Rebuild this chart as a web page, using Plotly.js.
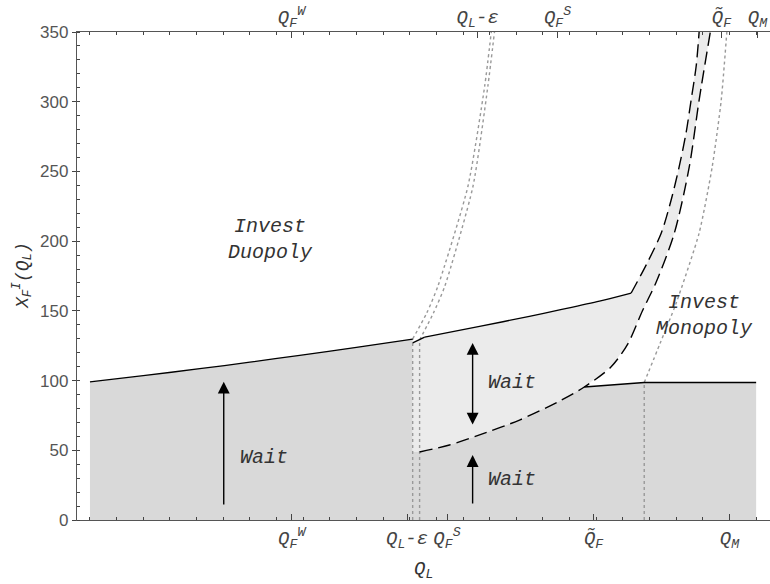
<!DOCTYPE html>
<html><head><meta charset="utf-8">
<script src="https://cdn.plot.ly/plotly-3.0.1.min.js"></script>
<style>body{margin:0;background:#fff}</style>
</head><body><div id="chart" style="width:770px;height:584px"></div>
<script>
// ---- data (x in model units, y = X_F^I(Q_L)) ----
const duoLeftX = [0, 2.0, 4.12, 6.0, 7.87, 10.0, 12.11];
const duoLeftY = [99.0, 103.5, 108.5, 113.2, 118.1, 123.8, 129.8];
const linkX = [12.11, 12.56];
const linkY = [127.0, 131.2];
const duoRightX = [12.56, 14.62, 16.49, 17.62, 19.12, 20.31];
const duoRightY = [131.2, 138.8, 146.1, 150.7, 157.0, 162.8];
const upDashX = [20.31, 20.91, 21.44, 21.81, 22.11, 22.37, 22.56, 22.75, 22.86];
const upDashY = [162.8, 184.3, 205.8, 229.5, 253.2, 277.6, 301.2, 325.6, 350];
const lowDashX = [12.37, 13.49, 14.62, 16.12, 17.62, 18.55, 19.55, 20.18, 20.73, 21.25, 21.93, 22.49, 22.86, 23.28];
const lowDashY = [48.8, 53.8, 61.0, 71.7, 85.3, 95.4, 109.7, 126.2, 149.9, 170.7, 205.8, 253.2, 301.2, 350];
const monoX = [18.55, 20.80, 25.0];
const monoY = [95.4, 98.6, 98.6];
// dotted guides: vertical part + curved part
const dotAVertX = [12.11, 12.11];
const dotAVertY = [0, 129.8];
const dotACurveX = [12.11, 12.64, 13.05, 14.18, 14.81, 15.06];
const dotACurveY = [129.8, 148.5, 167.3, 239.0, 310.8, 350];
const dotBVertX = [12.37, 12.37];
const dotBVertY = [0, 129.1];
const dotBCurveX = [12.37, 12.89, 13.31, 14.37, 14.93, 15.18];
const dotBCurveY = [129.1, 148.5, 167.3, 239.0, 310.8, 350];
const dotCVertX = [20.80, 20.80];
const dotCVertY = [0, 98.6];
const dotCCurveX = [20.80, 21.40, 22.0, 22.86, 23.35, 23.69, 23.90];
const dotCCurveY = [98.6, 126.9, 155.6, 205.8, 253.2, 301.2, 350];

const bottomTickVals = [7.57, 11.9, 13.4, 18.9, 24.0];
const bottomTickText = ['Q<sub>F</sub><sup>W</sup>', 'Q<sub>L</sub>-ε', 'Q<sub>F</sub><sup>S</sup>', 'Q̃<sub>F</sub>', 'Q<sub>M</sub>'];
const topTickVals = [7.56, 14.55, 17.55, 23.7, 25.05];
const topTickText = ['Q<sub>F</sub><sup>W</sup>', 'Q<sub>L</sub>-ε', 'Q<sub>F</sub><sup>S</sup>', 'Q̃<sub>F</sub>', 'Q<sub>M</sub>'];

// arrows: [x, tailY, headY]
const arrowUpLeft = [5.02, 10.0, 99.2];
const arrowDouble = [14.36, 67.4, 127.0];
const arrowUpSmall = [14.36, 10.8, 46.6];

const labelTexts = ['Invest<br>Duopoly', 'Invest<br>Monopoly', 'Wait', 'Wait', 'Wait'];
const labelX = [6.78, 23.05, 6.52, 15.82, 15.82];
const labelY = [200.9, 147.0, 44.5, 98.3, 28.7];

// ---- fills built from the curves ----
const nLow = lowDashX.findIndex(v => v >= monoX[0]);
const darkX = [0, ...duoLeftX, duoLeftX[duoLeftX.length-1], ...lowDashX.slice(0, nLow), ...monoX, monoX[monoX.length-1], 0];
const darkY = [0, ...duoLeftY, lowDashY[0], ...lowDashY.slice(0, nLow), ...monoY, 0, 0];
const lightX = [duoLeftX[duoLeftX.length-1], ...linkX, ...duoRightX, ...upDashX, ...lowDashX.slice().reverse(), duoLeftX[duoLeftX.length-1]];
const lightY = [lowDashY[0], ...linkY, ...duoRightY, ...upDashY, ...lowDashY.slice().reverse(), lowDashY[0]];

const solid = {color: '#000', width: 1.3, shape: 'spline', smoothing: 0.8};
const dashed = {color: '#000', width: 1.4, dash: '13px,6px', shape: 'spline', smoothing: 0.8};
const dotted = {color: '#999', width: 1.4, dash: 'dot', shape: 'spline', smoothing: 0.6};
const dottedStraight = {color: '#999', width: 1.4, dash: 'dot'};
const traces = [
  {x: darkX, y: darkY, fill: 'toself', fillcolor: '#d9d9d9', line: {width: 0}, mode: 'lines', hoverinfo: 'skip'},
  {x: lightX, y: lightY, fill: 'toself', fillcolor: '#ebebeb', line: {width: 0}, mode: 'lines', hoverinfo: 'skip'},
  {x: dotAVertX, y: dotAVertY, mode: 'lines', line: dottedStraight},
  {x: dotACurveX, y: dotACurveY, mode: 'lines', line: dotted},
  {x: dotBVertX, y: dotBVertY, mode: 'lines', line: dottedStraight},
  {x: dotBCurveX, y: dotBCurveY, mode: 'lines', line: dotted},
  {x: dotCVertX, y: dotCVertY, mode: 'lines', line: dottedStraight},
  {x: dotCCurveX, y: dotCCurveY, mode: 'lines', line: dotted},
  {x: duoLeftX, y: duoLeftY, mode: 'lines', line: solid},
  {x: linkX, y: linkY, mode: 'lines', line: {color: '#000', width: 1.3}},
  {x: duoRightX, y: duoRightY, mode: 'lines', line: solid},
  {x: monoX, y: monoY, mode: 'lines', line: {color: '#000', width: 1.3}},
  {x: upDashX, y: upDashY, mode: 'lines', line: dashed},
  {x: lowDashX, y: lowDashY, mode: 'lines', line: dashed},
  {x: [0], y: [0], xaxis: 'x2', mode: 'markers', marker: {opacity: 0}, hoverinfo: 'skip'}
];

const monoFont = {family: 'Liberation Mono, Courier New, monospace', size: 20, color: '#333', style: 'italic'};
const ann = [];
labelTexts.forEach((t, i) => ann.push({x: labelX[i], y: labelY[i], xref: 'x', yref: 'y', text: t, showarrow: false, font: monoFont}));
function arrow(a, both) {
  const o = {x: a[0], y: a[2], ax: a[0], ay: a[1], xref: 'x', yref: 'y', axref: 'x', ayref: 'y', text: '', showarrow: true,
    arrowhead: 2, arrowsize: 1.7, arrowwidth: 1.4, arrowcolor: '#000', standoff: 0};
  if (both) { o.arrowside = 'end+start'; o.startarrowhead = 2; o.startarrowsize = 1.7; o.startstandoff = 0; }
  return o;
}
ann.push(arrow(arrowUpLeft, false), arrow(arrowDouble, true), arrow(arrowUpSmall, false));
ann.push({xref: 'paper', yref: 'paper', x: 0.5, y: 0, yanchor: 'middle', xanchor: 'center', yshift: -50, text: 'Q<sub>L</sub>', showarrow: false,
  font: {family: 'Liberation Mono, monospace', size: 19, color: '#333', style: 'italic'}});
ann.push({xref: 'paper', yref: 'paper', x: 0, xanchor: 'center', yanchor: 'middle', xshift: -55, y: 0.5, textangle: -90, text: 'X<sub>F</sub><sup>I</sup>(Q<sub>L</sub>)', showarrow: false,
  font: {family: 'Liberation Mono, monospace', size: 18, color: '#333', style: 'italic'}});

const xRange = [-0.487, 25.52];
const tickFont = {family: 'Liberation Mono, monospace', size: 19, color: '#444', style: 'italic'};
const layout = {
  width: 770, height: 584,
  margin: {l: 77, r: 0, t: 32, b: 64},
  paper_bgcolor: '#fff', plot_bgcolor: '#fff',
  showlegend: false,
  xaxis: {range: xRange, showgrid: false, zeroline: false, showline: true, linecolor: '#555', linewidth: 1.2,
    tickmode: 'array', tickvals: bottomTickVals, ticktext: bottomTickText, ticks: 'inside', ticklen: 6, tickcolor: '#444',
    tickfont: tickFont, minor: {ticks: 'inside', ticklen: 3, tickcolor: '#444', tickmode: 'linear', tick0: 0, dtick: 1}},
  xaxis2: {range: xRange, overlaying: 'x', side: 'top', showgrid: false, zeroline: false, showline: true, linecolor: '#555', linewidth: 1.2,
    tickmode: 'array', tickvals: topTickVals, ticktext: topTickText, ticks: 'inside', ticklen: 6, tickcolor: '#444',
    tickfont: tickFont, minor: {ticks: 'inside', ticklen: 3, tickcolor: '#444', tickmode: 'linear', tick0: 0, dtick: 1}},
  yaxis: {range: [0, 350], showgrid: false, zeroline: false, showline: true, linecolor: '#555', linewidth: 1.2,
    tickmode: 'linear', tick0: 0, dtick: 50, ticks: 'outside', ticklen: 4, tickcolor: '#444',
    tickfont: {family: 'Liberation Sans, Arial, sans-serif', size: 17, color: '#555'},
    minor: {ticks: 'inside', ticklen: 3, tickcolor: '#444', tickmode: 'linear', tick0: 0, dtick: 10}},
  annotations: ann
};
Plotly.newPlot('chart', traces, layout, {staticPlot: true});
</script></body></html>
